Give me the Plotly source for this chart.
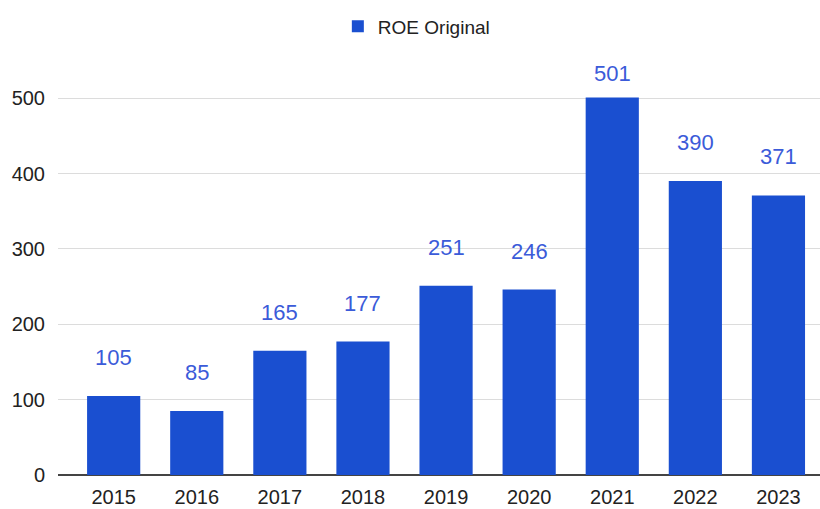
import plotly.graph_objects as go

years = ["2015", "2016", "2017", "2018", "2019", "2020", "2021", "2022", "2023"]
roe_original = [105, 85, 165, 177, 251, 246, 501, 390, 371]
y_ticks = [0, 100, 200, 300, 400, 500]

bar_color = "#1a4fd0"
label_color = "#3b5bd9"
font_family = "Liberation Sans, Arial, sans-serif"
y_max = 560

fig = go.Figure()
fig.add_trace(go.Bar(
    x=list(range(len(years))),
    y=roe_original,
    name="ROE Original",
    marker=dict(color=bar_color, line=dict(width=0)),
    showlegend=True,
))

# value labels floating above each bar, kept inside the plot area
for i, v in enumerate(roe_original):
    fig.add_annotation(
        x=i, y=min(v + 51, y_max - 27), text=str(v),
        showarrow=False, yanchor="middle", xanchor="center",
        font=dict(family=font_family, size=22, color=label_color),
    )

fig.update_layout(
    width=820, height=509,
    margin=dict(l=58, r=0, t=53, b=34),
    paper_bgcolor="white", plot_bgcolor="white",
    bargap=0.36,
    legend=dict(
        orientation="h", xref="container", x=0.412, xanchor="left",
        yref="container", y=0.948, yanchor="middle",
        font=dict(family=font_family, size=19, color="#222222"),
    ),
    xaxis=dict(
        range=[-0.67, 8.5],
        tickmode="array", tickvals=list(range(len(years))), ticktext=years,
        showgrid=False, zeroline=False, showline=False, ticks="",
        ticklabelstandoff=8,
        tickfont=dict(family=font_family, size=20, color="#222222"),
    ),
    yaxis=dict(
        range=[0, y_max],
        tickmode="array", tickvals=y_ticks,
        showgrid=True, gridcolor="#dcdcdc", gridwidth=1,
        zeroline=True, zerolinecolor="#444444", zerolinewidth=1.5,
        ticks="", ticklabelstandoff=12,
        tickfont=dict(family=font_family, size=20, color="#222222"),
    ),
)

fig.write_html("out.html")
